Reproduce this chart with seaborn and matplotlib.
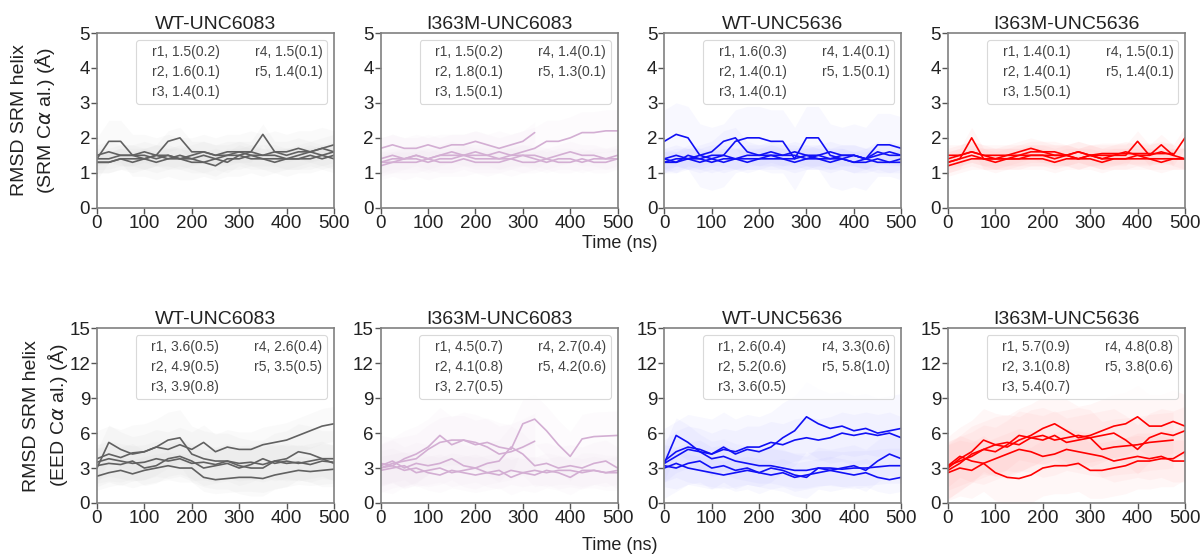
import numpy as np
import pandas as pd
import seaborn as sns
import matplotlib.pyplot as plt
from matplotlib.lines import Line2D

# time grid (ns) for the read-off smoothed traces
time = np.arange(0, 501, 25)
nan = np.nan

titles = ['WT-UNC6083', 'I363M-UNC6083', 'WT-UNC5636', 'I363M-UNC5636']
colors = ['#616161', '#d3aed3', '#1010f5', '#ff0000']
haze = ['#c4c4c4', '#e6d3e6', '#a8a8ff', '#ff9a9a']

# legend stats: mean(std) per run, top row = SRM alignment, bottom row = EED alignment
srm_mean = [[1.5, 1.6, 1.4, 1.5, 1.4], [1.5, 1.8, 1.5, 1.4, 1.3],
            [1.6, 1.4, 1.4, 1.4, 1.5], [1.4, 1.4, 1.5, 1.5, 1.4]]
srm_std = [[0.2, 0.1, 0.1, 0.1, 0.1], [0.2, 0.1, 0.1, 0.1, 0.1],
           [0.3, 0.1, 0.1, 0.1, 0.1], [0.1, 0.1, 0.1, 0.1, 0.1]]
eed_mean = [[3.6, 4.9, 3.9, 2.6, 3.5], [4.5, 4.1, 2.7, 2.7, 4.2],
            [2.6, 5.2, 3.6, 3.3, 5.8], [5.7, 3.1, 5.4, 4.8, 3.8]]
eed_std = [[0.5, 0.5, 0.8, 0.4, 0.5], [0.7, 0.8, 0.5, 0.4, 0.6],
           [0.4, 0.6, 0.5, 0.6, 1.0], [0.9, 0.8, 0.7, 0.8, 0.6]]

# RMSD traces (SRM Ca alignment)
srm_wt6083 = [
    [1.4, 1.9, 1.9, 1.5, 1.5, 1.4, 1.5, 1.4, 1.4, 1.5, 1.4, 1.5, 1.5, 1.6, 1.5, 1.6, 1.5, 1.6, 1.6, 1.7, 1.6],
    [1.5, 1.6, 1.5, 1.5, 1.6, 1.5, 1.9, 2.0, 1.6, 1.6, 1.5, 1.6, 1.6, 1.6, 2.1, 1.6, 1.6, 1.7, 1.6, 1.7, 1.8],
    [1.3, 1.3, 1.4, 1.4, 1.4, 1.5, 1.4, 1.4, 1.3, 1.3, 1.4, 1.3, 1.5, 1.4, 1.4, 1.4, 1.4, 1.4, 1.4, 1.5, 1.4],
    [1.4, 1.4, 1.5, 1.5, 1.4, 1.5, 1.5, 1.4, 1.5, 1.6, 1.5, 1.5, 1.6, 1.5, 1.5, 1.5, 1.4, 1.5, 1.6, 1.5, 1.6],
    [1.3, 1.3, 1.4, 1.3, 1.4, 1.3, 1.4, 1.5, 1.4, 1.3, 1.2, 1.4, 1.4, 1.5, 1.4, 1.3, 1.4, 1.4, 1.5, 1.4, 1.5],
]
srm_mut6083 = [
    [1.4, 1.5, 1.4, 1.5, 1.4, 1.5, 1.5, 1.5, 1.6, 1.5, 1.6, 1.5, 1.6, 1.7, 1.9, 1.9, 2.0, 2.15, 2.15, 2.2, 2.2],
    [1.7, 1.8, 1.7, 1.7, 1.8, 1.7, 1.8, 1.8, 1.9, 1.8, 1.7, 1.8, 1.9, 2.15, nan, nan, nan, nan, nan, nan, nan],
    [1.3, 1.4, 1.4, 1.5, 1.4, 1.5, 1.6, 1.5, 1.5, 1.5, 1.4, 1.5, 1.5, 1.5, 1.4, 1.5, 1.6, 1.5, 1.5, 1.4, 1.5],
    [1.3, 1.3, 1.4, 1.4, 1.3, 1.4, 1.4, 1.5, 1.4, 1.4, 1.4, 1.4, 1.5, 1.4, 1.3, 1.4, 1.4, 1.3, 1.4, 1.4, 1.4],
    [1.2, 1.3, 1.3, 1.3, 1.4, 1.3, 1.3, 1.4, 1.3, 1.3, 1.3, 1.4, 1.3, 1.3, 1.4, 1.3, 1.3, 1.4, 1.3, 1.3, 1.4],
]
srm_wt5636 = [
    [1.9, 2.1, 2.0, 1.5, 1.4, 1.5, 1.9, 2.0, 2.0, 1.9, 1.9, 1.4, 2.0, 2.0, 1.5, 1.4, 1.5, 1.4, 1.8, 1.8, 1.7],
    [1.4, 1.5, 1.4, 1.5, 1.6, 1.9, 2.0, 1.6, 1.5, 1.5, 1.5, 1.5, 1.4, 1.5, 1.4, 1.5, 1.5, 1.4, 1.5, 1.6, 1.5],
    [1.3, 1.4, 1.4, 1.3, 1.4, 1.3, 1.4, 1.4, 1.4, 1.5, 1.4, 1.4, 1.5, 1.4, 1.4, 1.4, 1.3, 1.4, 1.3, 1.3, 1.3],
    [1.3, 1.3, 1.4, 1.4, 1.3, 1.4, 1.4, 1.3, 1.4, 1.4, 1.4, 1.3, 1.4, 1.4, 1.3, 1.4, 1.3, 1.3, 1.4, 1.3, 1.4],
    [1.4, 1.3, 1.5, 1.4, 1.5, 1.5, 1.4, 1.5, 1.5, 1.6, 1.5, 1.6, 1.5, 1.5, 1.6, 1.5, 1.5, 1.4, 1.6, 1.5, 1.5],
]
srm_mut5636 = [
    [1.3, 1.4, 1.5, 1.4, 1.4, 1.4, 1.4, 1.5, 1.5, 1.4, 1.5, 1.4, 1.5, 1.4, 1.4, 1.4, 1.5, 1.4, 1.4, 1.4, 1.4],
    [1.2, 1.3, 1.4, 1.4, 1.3, 1.4, 1.4, 1.4, 1.4, 1.3, 1.4, 1.4, 1.4, 1.3, 1.4, 1.4, 1.4, 1.4, 1.3, 1.4, 1.4],
    [1.4, 1.5, 1.6, 1.5, 1.4, 1.5, 1.5, 1.6, 1.6, 1.6, 1.5, 1.6, 1.5, 1.5, 1.5, 1.6, 1.5, 1.5, 1.6, 1.5, 2.0],
    [1.5, 1.5, 1.6, 1.5, 1.5, 1.5, 1.6, 1.7, 1.6, 1.5, 1.5, 1.6, 1.5, 1.55, 1.55, 1.55, 1.55, 1.55, 1.55, 1.55, nan],
    [1.3, 1.4, 2.0, 1.4, 1.4, 1.4, 1.5, 1.5, 1.5, 1.5, 1.5, 1.4, 1.5, 1.4, 1.5, 1.5, 1.9, 1.5, 1.8, 1.5, 1.4],
]

# RMSD traces (EED Ca alignment)
eed_wt6083 = [
    [3.5, 3.8, 3.6, 3.4, 3.5, 3.8, 3.6, 3.8, 3.4, 3.5, 3.3, 3.6, 3.4, 3.5, 3.3, 3.6, 3.4, 3.5, 3.3, 3.6, 3.5],
    [3.0, 5.2, 4.6, 4.2, 4.4, 4.8, 4.6, 5.0, 4.6, 5.2, 4.4, 4.8, 4.6, 4.6, 5.0, 5.2, 5.4, 5.8, 6.2, 6.6, 6.8],
    [3.8, 4.2, 3.9, 4.3, 4.4, 4.8, 5.4, 5.6, 4.2, 3.8, 3.6, 3.6, 3.2, 3.0, 3.0, 3.6, 3.8, 4.4, 4.2, 3.8, 3.8],
    [2.3, 2.6, 2.8, 2.5, 2.8, 3.0, 3.2, 3.0, 3.0, 2.2, 2.0, 2.1, 2.2, 2.2, 2.1, 2.4, 2.6, 2.8, 2.7, 2.8, 2.9],
    [3.2, 3.4, 3.3, 3.6, 3.0, 3.2, 3.8, 4.0, 3.6, 3.0, 3.2, 3.4, 3.0, 3.3, 3.8, 3.4, 3.6, 3.4, 3.6, 3.8, 3.4],
]
eed_mut6083 = [
    [3.0, 3.4, 3.6, 3.8, 4.6, 5.2, 5.4, 5.4, 5.0, 5.2, 4.8, 4.6, 6.8, 7.2, 6.2, 5.0, 4.0, 5.5, 5.7, 5.75, 5.8],
    [3.4, 3.2, 3.8, 4.2, 4.8, 5.8, 5.0, 5.4, 5.2, 4.8, 4.2, 4.4, 4.8, 5.3, nan, nan, nan, nan, nan, nan, nan],
    [3.0, 3.2, 2.8, 3.0, 2.6, 2.4, 2.8, 2.6, 2.4, 2.6, 2.8, 2.2, 2.6, 2.4, 2.8, 2.6, 2.2, 2.8, 2.8, 2.6, 2.6],
    [2.8, 3.0, 3.2, 2.6, 2.8, 3.0, 2.6, 2.8, 3.0, 2.6, 2.4, 2.8, 2.6, 2.8, 2.6, 2.8, 2.8, 2.6, 2.8, 2.6, 2.8],
    [3.2, 3.6, 3.0, 3.4, 3.2, 3.4, 3.8, 3.2, 3.0, 3.4, 3.6, 4.8, 4.2, 3.2, 3.4, 3.0, 3.2, 3.0, 3.4, 3.6, 3.0],
]
eed_wt5636 = [
    [3.0, 3.4, 3.0, 2.8, 2.6, 2.4, 2.6, 2.8, 2.6, 2.4, 2.6, 2.2, 2.4, 2.6, 2.8, 2.6, 2.4, 2.6, 2.2, 2.0, 2.2],
    [3.6, 4.4, 4.8, 4.6, 4.2, 4.6, 4.4, 4.8, 4.8, 5.2, 5.0, 5.4, 5.6, 5.4, 5.6, 6.0, 5.8, 6.0, 5.8, 6.0, 5.6],
    [3.4, 5.8, 5.2, 4.4, 3.8, 4.0, 3.6, 3.4, 3.2, 3.2, 3.0, 2.8, 2.8, 3.0, 3.0, 2.9, 3.0, 3.0, 3.1, 3.2, 3.2],
    [3.2, 3.0, 3.4, 3.6, 3.0, 3.2, 2.8, 3.0, 2.6, 3.0, 2.8, 2.4, 2.2, 3.0, 2.8, 3.0, 3.2, 2.8, 3.6, 4.2, 3.8],
    [3.4, 4.0, 4.6, 4.4, 4.2, 4.8, 4.2, 4.6, 4.4, 4.8, 5.6, 6.2, 7.4, 6.8, 6.4, 6.6, 6.2, 6.4, 6.0, 6.2, 6.4],
]
eed_mut5636 = [
    [3.0, 3.8, 4.4, 5.4, 5.0, 4.8, 5.4, 5.8, 6.4, 6.8, 6.2, 5.6, 5.8, 6.2, 6.6, 6.8, 7.4, 6.6, 6.6, 7.0, 6.6],
    [2.6, 3.0, 2.8, 3.4, 2.6, 2.2, 2.1, 2.4, 3.0, 3.2, 3.2, 3.4, 2.8, 2.8, 3.0, 3.2, 3.6, 3.6, 3.8, 3.8, 4.4],
    [3.2, 3.6, 4.0, 4.6, 4.4, 5.0, 5.8, 5.6, 5.4, 5.8, 5.2, 5.4, 5.6, 5.8, 6.0, 5.4, 4.6, 5.6, 6.0, 5.8, 6.2],
    [2.8, 3.4, 4.2, 4.6, 5.0, 5.2, 5.0, 5.6, 5.8, 5.4, 5.6, 5.8, 5.6, 4.6, 4.8, 4.9, 5.0, 5.2, 5.3, 5.4, nan],
    [3.2, 4.0, 3.6, 3.4, 3.8, 4.2, 4.6, 4.4, 4.0, 4.2, 4.6, 4.4, 4.2, 4.0, 3.6, 3.8, 4.0, 3.8, 4.0, 3.6, 3.6],
]

srm_runs = [srm_wt6083, srm_mut6083, srm_wt5636, srm_mut5636]
eed_runs = [eed_wt6083, eed_mut6083, eed_wt5636, eed_mut5636]

sns.set_theme(style='ticks')
plt.rcParams['font.family'] = ['Liberation Sans', 'DejaVu Sans']
plt.rcParams['axes.edgecolor'] = '#808080'
plt.rcParams['xtick.color'] = '#555555'
plt.rcParams['ytick.color'] = '#555555'
plt.rcParams['xtick.labelcolor'] = '#222222'
plt.rcParams['ytick.labelcolor'] = '#222222'

fig, axes = plt.subplots(2, 4, figsize=(12.03, 5.54), dpi=100)
fig.subplots_adjust(left=0.0806, right=0.985, top=0.9404, bottom=0.0921,
                    wspace=0.197, hspace=0.69)

rows = [(srm_runs, srm_mean, srm_std, 5, [0, 1, 2, 3, 4, 5], -0.168),
        (eed_runs, eed_mean, eed_std, 15, [0, 3, 6, 9, 12, 15], -0.115)]

for r, (runs, means, stds, ymax, yticks, labx) in enumerate(rows):
    for c in range(4):
        ax = axes[r, c]
        frames = []
        for k, vals in enumerate(runs[c]):
            frames.append(pd.DataFrame({'time': time, 'rmsd': vals, 'run': f'r{k+1}'}))
        df = pd.concat(frames).dropna()
        # faint spread band around each trace (scaled from the run std)
        for k, (run, sub) in enumerate(df.groupby('run', sort=True)):
            s = stds[c][k] * 3
            ax.fill_between(sub['time'], sub['rmsd'] - s, sub['rmsd'] + s,
                            color=haze[c], alpha=0.08, lw=0)
        sns.lineplot(data=df, x='time', y='rmsd', units='run', estimator=None,
                     color=colors[c], lw=1.2, ax=ax, legend=False)
        ax.set_xlim(0, 500)
        ax.set_ylim(0, ymax)
        ax.set_xticks([0, 100, 200, 300, 400, 500])
        ax.set_yticks(yticks)
        ax.tick_params(labelsize=13.5, length=4, width=1, pad=1)
        ax.set_xlabel('')
        ax.set_ylabel('')
        for sp in ax.spines.values():
            sp.set_visible(True)
            sp.set_linewidth(1.2)
        ax.set_title(titles[c], fontsize=14, color='#222222', pad=3)
        labels = [f'r{k+1}, {means[c][k]:.1f}({stds[c][k]:.1f})' for k in range(5)]
        handles = [Line2D([], [], alpha=0) for _ in range(5)]
        leg = ax.legend(handles, labels, ncol=2, loc='upper right',
                        fontsize=10, handlelength=0.5, handletextpad=0.3,
                        columnspacing=1.73, labelspacing=0.45,
                        borderpad=0.33, borderaxespad=0, frameon=True,
                        fancybox=True, bbox_to_anchor=(0.971, 0.96))
        leg.get_frame().set_edgecolor('#d0d0d0')
        leg.get_frame().set_linewidth(0.8)
        for t in leg.get_texts():
            t.set_color('#444444')

    axes[r, 0].set_ylabel(
        'RMSD SRM helix\n(' + ('SRM' if r == 0 else 'EED') + r' C$\it{\alpha}$ al.) (Å)',
        fontsize=14, color='#222222', linespacing=1.3)
    axes[r, 0].yaxis.set_label_coords(labx, 0.5)

fig.text(0.515, 0.561, 'Time (ns)', ha='center', va='center', fontsize=13, color='#222222')
fig.text(0.515, 0.016, 'Time (ns)', ha='center', va='center', fontsize=13, color='#222222')

plt.savefig('out.png', dpi=100)
